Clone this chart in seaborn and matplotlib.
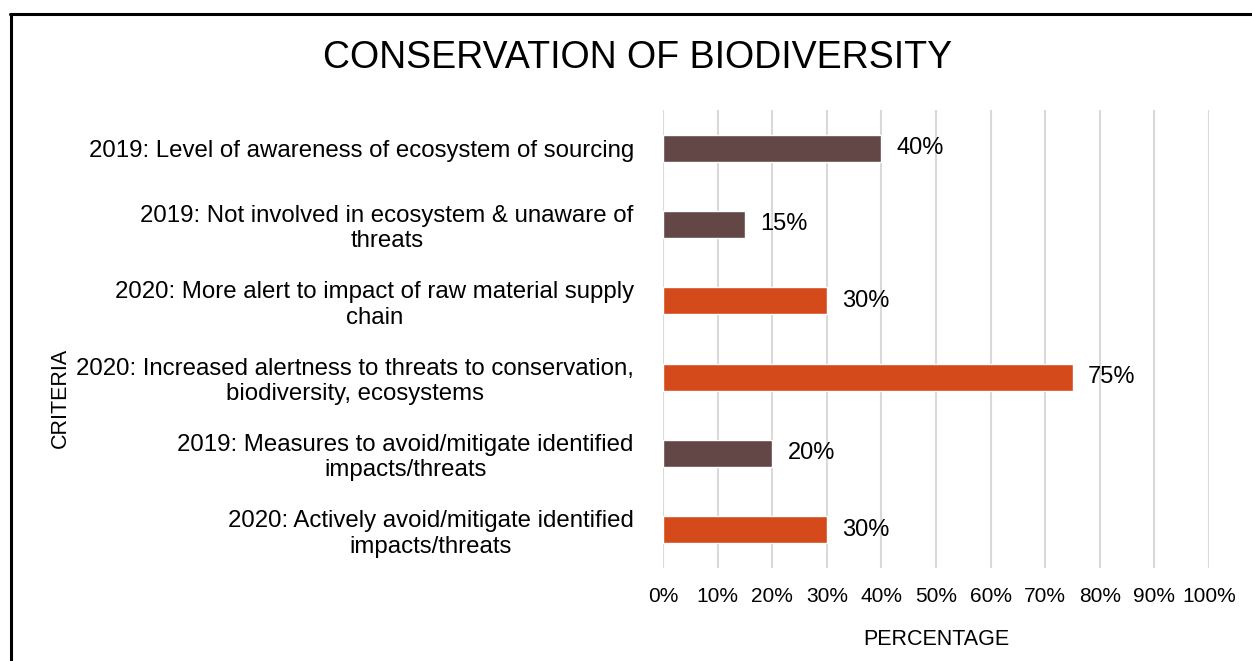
import matplotlib
matplotlib.use('Agg')
import matplotlib.pyplot as plt
from matplotlib.lines import Line2D
from matplotlib.ticker import PercentFormatter
import seaborn as sns
import pandas as pd

CRITERIA = ['2019: Level of awareness of ecosystem of sourcing',
            '2019: Not involved in ecosystem & unaware of\nthreats',
            '2020: More alert to impact of raw material supply\nchain',
            '2020: Increased alertness to threats to conservation,\nbiodiversity, ecosystems',
            '2019: Measures to avoid/mitigate identified\nimpacts/threats',
            '2020: Actively avoid/mitigate identified\nimpacts/threats']
YEARS   = ['2019', '2019', '2020', '2020', '2019', '2020']
VALUES  = [40, 15, 30, 75, 20, 30]
PALETTE = {'2019': '#634646', '2020': '#D44A1A'}

df = pd.DataFrame({'criteria': CRITERIA, 'year': YEARS, 'value': VALUES})

sns.set_style('white')
plt.rcParams['font.family'] = ['Liberation Sans', 'DejaVu Sans']
plt.rcParams['text.color'] = 'black'
plt.rcParams['axes.labelcolor'] = 'black'

fig = plt.figure(figsize=(12.52, 6.61), dpi=100)
ax = fig.add_axes([663/1252, 1 - 568/661, (1209 - 663)/1252, (568 - 110)/661])

sns.barplot(data=df, y='criteria', x='value', hue='year', palette=PALETTE,
            dodge=False, width=0.35, legend=False, ax=ax, saturation=1)

for c in ax.containers:
    ax.bar_label(c, labels=[f'{v:.0f}%' if v == v and v > 0 else '' for v in c.datavalues],
                 padding=11, fontsize=17, color='black')

ax.set_xlim(0, 100)
ax.set_xticks(range(0, 101, 10))
ax.xaxis.set_major_formatter(PercentFormatter(decimals=0))
ax.grid(axis='x', color='#d9d9d9', lw=1.5)
ax.set_axisbelow(True)
for s in ax.spines.values():
    s.set_visible(False)
ax.tick_params(axis='both', length=0, colors='black')
ax.tick_params(axis='y', pad=21, labelsize=17.3)
ax.tick_params(axis='x', pad=14, labelsize=15)
for t in ax.get_yticklabels():
    t.set_horizontalalignment('right')
    t.set_multialignment('center')
    t.set_linespacing(1.2)

ax.set_xlabel('PERCENTAGE', fontsize=15.5, labelpad=16)
ax.set_ylabel('')
fig.text(60/1252, 1 - 398/661, 'CRITERIA', rotation=90, fontsize=15.5,
         ha='center', va='center')
fig.text(638/1252, 1 - 58/661, 'CONSERVATION OF BIODIVERSITY', fontsize=27,
         ha='center', va='center')

# outer frame (left and top edges visible)
fig.add_artist(Line2D([11/1252, 11/1252], [0, 1 - 14/661], color='black', lw=2.2,
                      transform=fig.transFigure))
fig.add_artist(Line2D([10/1252, 1], [1 - 14/661, 1 - 14/661], color='black', lw=2.2,
                      transform=fig.transFigure))

fig.savefig('out.png', dpi=100)
